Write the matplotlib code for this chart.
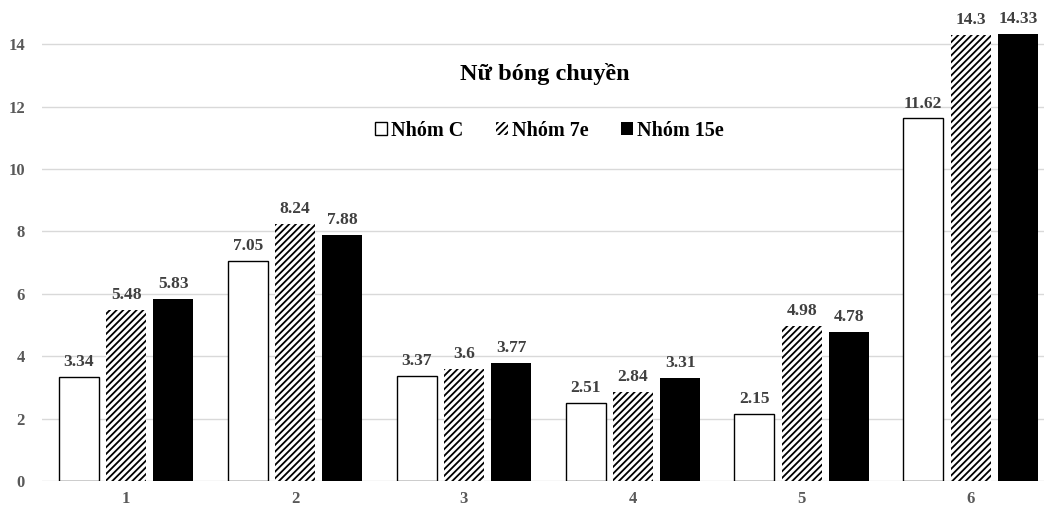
import matplotlib
matplotlib.use('Agg')
import matplotlib.pyplot as plt
import numpy as np

plt.rcParams['font.family'] = ['Liberation Serif', 'DejaVu Serif']
plt.rcParams['font.weight'] = 'bold'
plt.rcParams['hatch.linewidth'] = 1.3

categories = ['1', '2', '3', '4', '5', '6']
nhom_c = [3.34, 7.05, 3.37, 2.51, 2.15, 11.62]
nhom_7e = [5.48, 8.24, 3.6, 2.84, 4.98, 14.3]
nhom_15e = [5.83, 7.88, 3.77, 3.31, 4.78, 14.33]
labels = ['Nhóm C', 'Nhóm 7e', 'Nhóm 15e']

fig = plt.figure(figsize=(10.44, 5.08), dpi=100)
ax = fig.add_axes([0.04, 0.0531, 0.9705, 0.9213])

x = np.arange(len(categories))
w = 0.237
off = 0.28

b1 = ax.bar(x - off, nhom_c, w, color='white', edgecolor='black', linewidth=1.0, label=labels[0])
b2 = ax.bar(x, nhom_7e, w, color='white', edgecolor='black', linewidth=0, hatch='/////', label=labels[1])
b3 = ax.bar(x + off, nhom_15e, w, color='black', edgecolor='black', linewidth=0, label=labels[2])

for bars, vals in [(b1, nhom_c), (b2, nhom_7e), (b3, nhom_15e)]:
    for rect, v in zip(bars, vals):
        ax.annotate(f'{v:g}', (rect.get_x() + rect.get_width() / 2, v),
                    xytext=(0, 5), textcoords='offset points', ha='center', va='bottom',
                    fontsize=12.5, color='#404040', fontweight='bold')

ax.set_xlim(-0.5, 5.5)
ax.set_ylim(0, 15)
ax.set_yticks(range(0, 15, 2))
ax.set_xticks(x)
ax.set_xticklabels(categories)
ax.tick_params(length=0, labelsize=12, colors='#595959')
ax.tick_params(axis='y', pad=12)
ax.tick_params(axis='x', pad=7)
ax.grid(axis='y', color='#d9d9d9', linewidth=1)
ax.set_axisbelow(True)
for s in ax.spines.values():
    s.set_visible(False)

fig.text(0.522, 0.855, 'Nữ bóng chuyền', ha='center', va='center', fontsize=17.5, fontweight='bold')
leg = fig.legend(handles=[b1, b2, b3], labels=labels, loc='center', bbox_to_anchor=(0.526, 0.743),
                 ncol=3, frameon=False, fontsize=14.5, handlelength=0.6, handleheight=0.6,
                 handletextpad=0.2, columnspacing=1.6)

fig.savefig('out.png', dpi=100)
